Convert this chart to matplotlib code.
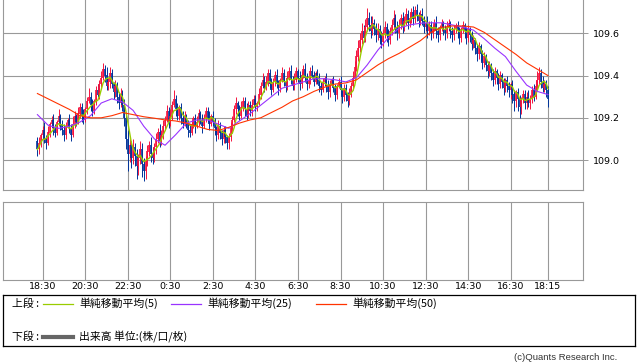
import numpy as np
import pandas as pd
import matplotlib
matplotlib.use("Agg")
import matplotlib.pyplot as plt

# 5分足 18:15 -> 翌18:15、値は 109.00 からの差 (pips)
base = 109.0
first_open = 9
closes = [
    5, 8, 12, 14, 10, 8, 13, 17, 19, 15, 13, 18,
    21, 17, 14, 12, 16, 19, 15, 12, 17, 21, 18, 22,
    25, 21, 19, 24, 28, 30, 26, 23, 28, 33, 31, 36,
    39, 43, 40, 35, 37, 41, 36, 32, 35, 30, 27, 31,
    26, 20, 10, 3, 7, 1, 6, 2, -3, 1, 5, -2,
    -5, 0, 4, 7, 3, 1, 6, 10, 13, 9, 12, 16,
    19, 23, 18, 21, 26, 29, 24, 21, 25, 20, 17, 21,
    17, 14, 13, 17, 20, 16, 18, 22, 19, 16, 20, 23,
    20, 17, 21, 18, 15, 12, 16, 13, 10, 14, 11, 8,
    11, 15, 19, 24, 27, 24, 21, 25, 28, 24, 21, 26,
    23, 26, 29, 25, 27, 31, 35, 38, 34, 37, 41, 36,
    33, 37, 40, 36, 34, 38, 41, 37, 35, 39, 42, 38,
    35, 38, 42, 39, 36, 40, 43, 39, 36, 38, 42, 40,
    37, 41, 38, 35, 33, 37, 39, 35, 32, 36, 38, 34,
    31, 35, 37, 33, 30, 34, 31, 28, 31, 35, 39, 44,
    49, 53, 57, 61, 58, 63, 67, 64, 61, 65, 62, 59,
    62, 58, 56, 60, 63, 59, 57, 61, 64, 67, 63, 60,
    64, 67, 63, 66, 69, 65, 67, 70, 67, 71, 68, 66,
    69, 66, 63, 65, 61, 64, 60, 63, 65, 61, 59, 63,
    65, 62, 60, 63, 65, 61, 59, 62, 64, 61, 58, 62,
    64, 61, 58, 62, 59, 55, 57, 53, 50, 54, 50, 46,
    49, 45, 42, 45, 41, 38, 42, 39, 36, 40, 37, 34,
    38, 35, 33, 36, 31, 28, 32, 29, 25, 29, 31, 27,
    30, 27, 29, 33, 30, 35, 38, 41, 37, 34, 36, 33,
    29,
]
# ひげの長さ (実体からの上下, pips)
wick_hi = [
    2, 3, 1, 2, 4, 2, 3, 1, 2, 3, 2, 1,
    3, 1, 2, 3, 2, 1, 3, 2, 4, 2, 1, 3,
    2, 2, 3, 1, 2, 4, 2, 3, 1, 2, 3, 2,
    3, 3, 2, 4, 2, 3, 2, 1, 3, 2, 2, 3,
    2, 3, 2, 4, 3, 2, 4, 2, 3, 2, 4, 3,
    3, 2, 3, 2, 4, 3, 2, 3, 2, 4, 2, 3,
    2, 3, 2, 3, 2, 4, 2, 3, 1, 2, 3, 2,
    1, 2, 3, 2, 1, 2, 3, 2, 1, 3, 2, 2,
    2, 3, 1, 2, 2, 1, 3, 2, 1, 2, 2, 1,
    2, 3, 2, 2, 3, 1, 2, 3, 2, 2, 3, 2,
    2, 3, 2, 2, 1, 3, 2, 3, 2, 3, 2, 2,
    3, 2, 2, 3, 2, 1, 3, 2, 2, 3, 2, 3,
    2, 3, 2, 1, 3, 2, 2, 3, 2, 1, 2, 3,
    2, 1, 2, 3, 2, 2, 1, 2, 3, 2, 1, 2,
    2, 1, 2, 3, 1, 2, 2, 1, 3, 2, 3, 3,
    3, 4, 3, 4, 3, 4, 5, 3, 4, 3, 2, 3,
    3, 2, 3, 2, 3, 2, 3, 2, 3, 4, 2, 3,
    3, 2, 3, 2, 3, 2, 3, 2, 3, 2, 3, 2,
    2, 3, 2, 1, 3, 2, 2, 1, 2, 3, 2, 1,
    2, 1, 2, 3, 2, 1, 2, 2, 1, 2, 2, 1,
    2, 1, 2, 2, 1, 2, 2, 1, 2, 2, 1, 2,
    2, 1, 2, 2, 1, 2, 2, 1, 2, 2, 1, 2,
    1, 2, 2, 1, 2, 2, 1, 2, 2, 1, 2, 2,
    2, 3, 2, 2, 3, 3, 4, 3, 2, 3, 2, 2,
    2,
]
wick_lo = [
    3, 2, 2, 1, 2, 3, 1, 2, 2, 3, 2, 1,
    2, 3, 2, 3, 2, 1, 2, 3, 1, 2, 2, 1,
    2, 3, 2, 1, 2, 1, 3, 2, 1, 2, 1, 2,
    2, 1, 3, 2, 2, 3, 2, 3, 2, 3, 3, 2,
    3, 4, 5, 8, 4, 5, 3, 5, 6, 4, 3, 6,
    5, 4, 3, 2, 4, 3, 2, 3, 2, 3, 2, 2,
    2, 1, 3, 2, 2, 1, 3, 2, 2, 3, 2, 1,
    2, 3, 2, 1, 2, 3, 1, 2, 2, 3, 1, 2,
    2, 3, 1, 2, 3, 3, 2, 3, 3, 2, 3, 3,
    3, 2, 2, 1, 2, 3, 2, 1, 2, 3, 2, 1,
    2, 2, 1, 2, 2, 1, 2, 1, 2, 1, 2, 2,
    2, 1, 2, 2, 3, 2, 1, 2, 3, 2, 1, 2,
    2, 2, 1, 2, 3, 2, 1, 2, 3, 2, 2, 1,
    2, 1, 2, 3, 2, 1, 2, 3, 3, 2, 1, 2,
    3, 2, 1, 2, 3, 2, 3, 3, 2, 1, 2, 2,
    2, 2, 2, 2, 2, 2, 2, 3, 3, 2, 3, 3,
    2, 3, 3, 2, 2, 3, 3, 2, 2, 2, 3, 3,
    2, 2, 3, 2, 2, 3, 2, 2, 3, 2, 2, 3,
    2, 2, 3, 2, 3, 2, 3, 2, 2, 3, 3, 2,
    2, 3, 3, 2, 2, 3, 3, 2, 2, 3, 3, 2,
    2, 3, 3, 2, 3, 3, 2, 3, 3, 2, 3, 3,
    2, 3, 3, 2, 3, 3, 2, 3, 3, 2, 3, 3,
    2, 3, 3, 4, 4, 5, 3, 6, 5, 3, 2, 3,
    3, 2, 3, 2, 2, 1, 2, 2, 3, 2, 2, 3,
    4,
]

# 30分ごとに読んだ移動平均(25)・(50)
ma25 = [109.215, 109.165, 109.15, 109.16, 109.18, 109.21, 109.27, 109.29, 109.275, 109.235,
        109.16, 109.10, 109.07, 109.12, 109.175, 109.19, 109.19, 109.17, 109.15, 109.185,
        109.22, 109.26, 109.30, 109.34, 109.355, 109.37, 109.385, 109.385, 109.38, 109.37,
        109.39, 109.45, 109.52, 109.58, 109.625, 109.64, 109.648, 109.65, 109.65, 109.64,
        109.63, 109.615, 109.575, 109.53, 109.49, 109.42, 109.355, 109.325, 109.31]
ma50 = [109.315, 109.29, 109.265, 109.24, 109.21, 109.20, 109.20, 109.21, 109.225, 109.215,
        109.205, 109.198, 109.19, 109.185, 109.175, 109.16, 109.145, 109.14, 109.155, 109.175,
        109.19, 109.20, 109.225, 109.25, 109.28, 109.30, 109.325, 109.345, 109.36, 109.365,
        109.38, 109.415, 109.45, 109.48, 109.505, 109.535, 109.565, 109.605, 109.628, 109.635,
        109.635, 109.63, 109.605, 109.57, 109.535, 109.50, 109.46, 109.43, 109.40]

time_labels = ["18:30", "20:30", "22:30", "0:30", "2:30", "4:30", "6:30",
               "8:30", "10:30", "12:30", "14:30", "16:30", "18:15"]
price_ticks = [109.0, 109.2, 109.4, 109.6]

UP = "#f5133d"
DOWN = "#003399"
GRID = "#999999"

c = base + np.array(closes) / 100.0
o = np.concatenate([[base + first_open / 100.0], c[:-1]])
hi = np.maximum(o, c) + np.array(wick_hi) / 100.0
lo = np.minimum(o, c) - np.array(wick_lo) / 100.0
x = np.arange(len(c))
cols = np.where(c > o, UP, DOWN)
ma5 = pd.Series(c).rolling(5, min_periods=1).mean()
x30 = np.arange(len(ma25)) * 6  # 30分 = 6本


def tick_index(label):
    h, m = map(int, label.split(":"))
    k = ((h * 60 + m) - (18 * 60 + 15)) % 1440 // 5
    return k if k else len(c) - 1


xt = [tick_index(t) for t in time_labels]

W, H = 638, 362
fig = plt.figure(figsize=(W / 100, H / 100), dpi=100)


def px_axes(l, t, r, b):
    return fig.add_axes([l / W, 1 - b / H, (r - l) / W, (b - t) / H])


xlim = (-19.24, 307.6)

# 上段
ax = px_axes(3.3, 0, 582.7, 190)
ax.vlines(x, lo, hi, colors=cols, lw=0.7, zorder=3)
ax.vlines(x, np.minimum(o, c), np.maximum(o, c) + 0.0005, colors=cols, lw=1.2, zorder=3)
ax.plot(x, ma5, color="#99cc00", lw=1.0, zorder=4)
ax.plot(x30, ma25, color="#9933ff", lw=0.8, zorder=4)
ax.plot(x30, ma50, color="#ff3300", lw=0.8, zorder=4)
ax.set_xlim(*xlim)
ax.set_ylim(108.858, 109.758)
ax.set_xticks(xt)
ax.set_xticklabels([])
ax.set_yticks(price_ticks)
ax.set_yticklabels([f"{v:.1f}" for v in price_ticks])
ax.yaxis.tick_right()
ax.tick_params(axis="y", length=3.6, width=0.7, color=GRID, pad=3.5, labelsize=6.8)
ax.tick_params(axis="x", length=0)
ax.grid(True, color=GRID, lw=0.8)
for s in ["left", "right", "bottom"]:
    ax.spines[s].set_color(GRID)
    ax.spines[s].set_linewidth(0.8)
ax.spines["top"].set_visible(False)

# 下段 (出来高なし)
ax2 = px_axes(3.3, 201.7, 582.7, 280)
ax2.set_xlim(*xlim)
ax2.set_ylim(0, 1)
ax2.set_xticks(xt)
ax2.set_xticklabels(time_labels)
ax2.set_yticks([])
ax2.tick_params(axis="x", length=0, pad=1.5, labelsize=6.8)
ax2.grid(True, axis="x", color=GRID, lw=0.8)
for s in ax2.spines.values():
    s.set_color(GRID)
    s.set_linewidth(0.8)

# 凡例
lg = px_axes(3.3, 295, 635, 346)
lg.set_xlim(3.3, 635)
lg.set_ylim(346, 295)
lg.set_xticks([])
lg.set_yticks([])
for s in lg.spines.values():
    s.set_color("black")
    s.set_linewidth(0.9)
jp = ["Noto Sans CJK JP", "DejaVu Sans"]
row1, row2 = 303.5, 336.5
lg.text(11.5, row1, "上段 :", family=jp, fontsize=7.8, va="center")
for x0, col, name in [(43, "#99cc00", "単純移動平均(5)"),
                      (171, "#9933ff", "単純移動平均(25)"),
                      (316, "#ff3300", "単純移動平均(50)")]:
    lg.plot([x0, x0 + 30], [row1, row1], color=col, lw=0.9)
    lg.text(x0 + 36, row1, name, family=jp, fontsize=7.8, va="center")
lg.text(11.5, row2, "下段 :", family=jp, fontsize=7.8, va="center")
lg.plot([43, 73], [row2, row2], color="#666666", lw=3)
lg.text(79, row2, "出来高 単位:(株/口/枚)", family=jp, fontsize=7.8, va="center")

fig.text(617 / W, 1 - 357.5 / H, "(c)Quants Research Inc.", ha="right", va="center",
         fontsize=6.8, color="#333333", family="Liberation Sans")

fig.savefig("out.png", dpi=100)
